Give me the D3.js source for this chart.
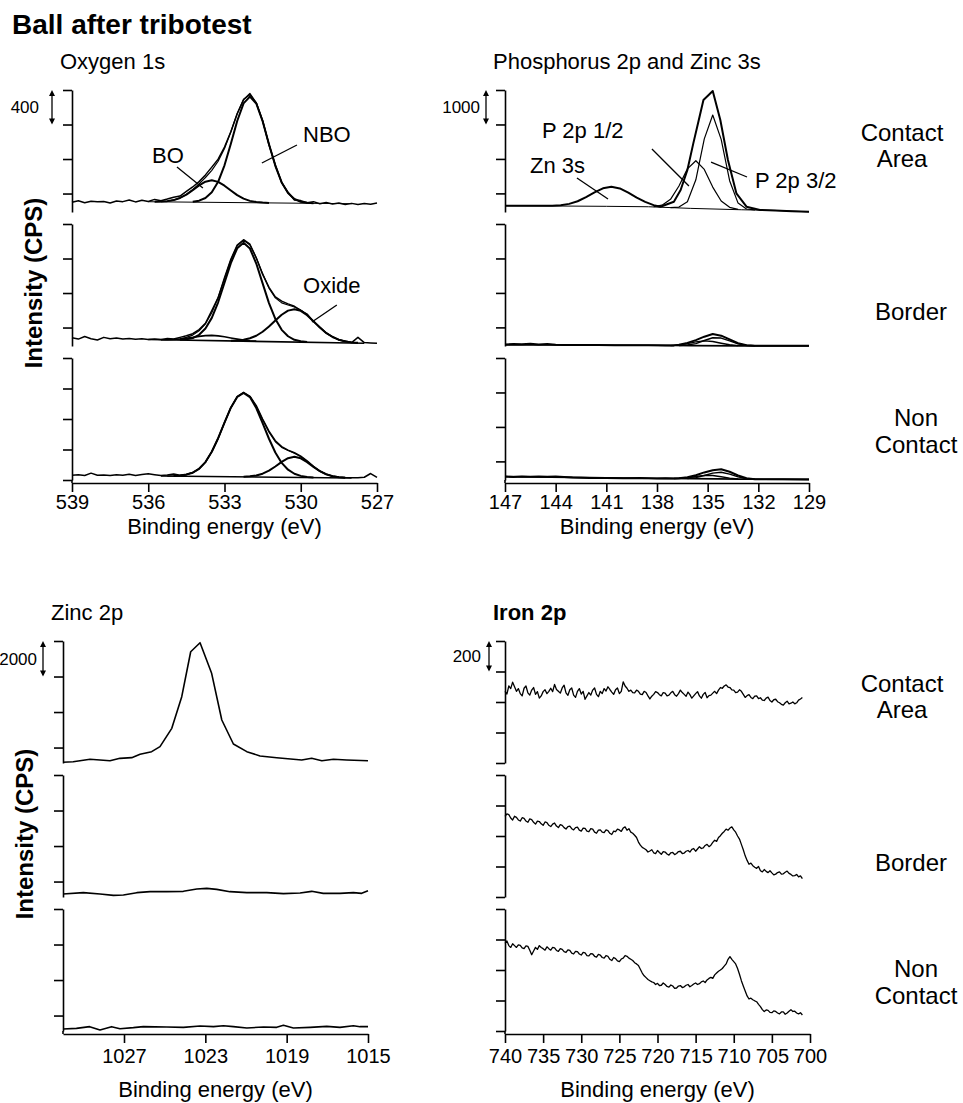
<!DOCTYPE html>
<html lang="en">
<head>
<meta charset="utf-8">
<title>Ball after tribotest</title>
<script src="https://d3js.org/d3.v7.min.js"></script>
<style>
  body { margin: 0; background: #fff; }
  text { font-family: "Liberation Sans", Arial, sans-serif; fill: #000; }
</style>
</head>
<body>
<svg id="chart" width="963" height="1103"></svg>
<script>
// ---------- O 1s (binding energy eV, intensity CPS) ----------
const o1sContactRaw = [[539,112],[538.75,130],[538.5,108],[538.25,125],[538,118],[537.75,122],[537.5,105],[537.25,128],[537,120],[536.75,140],[536.5,117],[536.25,135],[536,122],[535.75,146],[535.5,130],[535.25,150],[535,172],[534.75,185],[534.5,238],[534.25,290],[534,352],[533.75,430],[533.5,520],[533.25,612],[533,752],[532.75,930],[532.5,1138],[532.25,1300],[532,1372],[531.75,1262],[531.5,1060],[531.25,780],[531,548],[530.75,340],[530.5,228],[530.25,140],[530,132],[529.75,108],[529.5,120],[529.25,96],[529,110],[528.75,92],[528.5,104],[528.25,88],[528,100],[527.75,86],[527.5,98],[527.25,90],[527,104]];
const o1sContactFit = [[535.5,121],[535.25,126],[535,138],[534.75,163],[534.5,202],[534.25,259],[534,326],[533.75,400],[533.5,483],[533.25,588],[533,736],[532.75,930],[532.5,1141],[532.25,1306],[532,1359],[531.75,1267],[531.5,1055],[531.25,787],[531,535],[530.75,343],[530.5,219],[530.25,151],[530,119],[529.75,107],[529.5,100]];
const o1sContactNBO = [[534.25,120],[534,131],[533.75,162],[533.5,228],[533.25,350],[533,541],[532.75,791],[532.5,1055],[532.25,1259],[532,1337],[531.75,1258],[531.5,1052],[531.25,786],[531,535],[530.75,343],[530.5,219],[530.25,151],[530,119],[529.75,107],[529.5,100]];
const o1sContactBO = [[535.75,119],[535.5,121],[535.25,126],[535,138],[534.75,163],[534.5,201],[534.25,253],[534,308],[533.75,351],[533.5,367],[533.25,349],[533,305],[532.75,249],[532.5,195],[532.25,155],[532,129],[531.75,116],[531.5,109],[531.25,105]];
const o1sContactBg = [[536,119],[528,96]];

const o1sBorderRaw = [[539,95],[538.75,80],[538.5,110],[538.25,85],[538,70],[537.75,100],[537.5,85],[537.25,92],[537,80],[536.75,88],[536.5,78],[536.25,84],[536,76],[535.75,82],[535.5,74],[535.25,88],[535,80],[534.75,100],[534.5,118],[534.25,142],[534,190],[533.75,262],[533.5,410],[533.25,560],[533,790],[532.75,1005],[532.5,1170],[532.25,1232],[532,1180],[531.75,1020],[531.5,830],[531.25,680],[531,570],[530.75,520],[530.5,488],[530.25,460],[530,412],[529.75,370],[529.5,282],[529.25,220],[529,150],[528.75,108],[528.5,70],[528.25,58],[528,40],[527.75,100],[527.5,40],[527.25,36],[527,32]];
const o1sBorderFit = [[535.5,74],[535.25,74],[535,77],[534.75,84],[534.5,100],[534.25,126],[534,177],[533.75,258],[533.5,386],[533.25,563],[533,781],[532.75,998],[532.5,1162],[532.25,1225],[532,1171],[531.75,1024],[531.5,839],[531.25,671],[531,558],[530.75,500],[530.5,475],[530.25,452],[530,417],[529.75,360],[529.5,288],[529.25,215],[529,152],[528.75,104],[528.5,73],[528.25,53],[528,42],[527.75,37]];
const o1sBorderNBO = [[534.75,72],[534.5,78],[534.25,92],[534,130],[533.75,202],[533.5,326],[533.25,507],[533,733],[532.75,961],[532.5,1133],[532.25,1196],[532,1130],[531.75,956],[531.5,726],[531.25,497],[531,313],[530.75,187],[530.5,113],[530.25,72],[530,55],[529.75,47]];
const o1sBorderOxide = [[532.75,62],[532.5,65],[532.25,73],[532,90],[531.75,119],[531.5,165],[531.25,225],[531,295],[530.75,362],[530.5,410],[530.25,426],[530,407],[529.75,357],[529.5,288],[529.25,215],[529,152],[528.75,104],[528.5,73],[528.25,53],[528,42],[527.75,37]];
const o1sBorderSmall = [[535.5,74],[535.25,74],[535,76],[534.75,81],[534.5,90],[534.25,100],[534,112],[533.75,120],[533.5,123],[533.25,117],[533,107],[532.75,93],[532.5,80],[532.25,68],[532,61],[531.75,57]];
const o1sBorderBg = [[536,75],[527.5,32]];

const o1sNonRaw = [[539,62],[538.75,68],[538.5,60],[538.25,90],[538,62],[537.75,66],[537.5,58],[537.25,70],[537,62],[536.75,75],[536.5,60],[536.25,72],[536,82],[535.75,70],[535.5,58],[535.25,66],[535,78],[534.75,62],[534.5,75],[534.25,98],[534,148],[533.75,232],[533.5,372],[533.25,545],[533,755],[532.75,950],[532.5,1092],[532.25,1150],[532,1098],[531.75,975],[531.5,800],[531.25,640],[531,515],[530.75,438],[530.5,392],[530.25,358],[530,312],[529.75,250],[529.5,180],[529.25,118],[529,80],[528.75,52],[528.5,40],[528.25,34],[528,30],[527.75,28],[527.5,36],[527.25,85],[527,35]];
const o1sNonFit = [[535.25,52],[535,54],[534.75,58],[534.5,70],[534.25,96],[534,147],[533.75,235],[533.5,370],[533.25,548],[533,752],[532.75,948],[532.5,1089],[532.25,1144],[532,1095],[531.75,965],[531.5,791],[531.25,627],[531,502],[530.75,428],[530.5,386],[530.25,352],[530,305],[529.75,243],[529.5,175],[529.25,116],[529,74],[528.75,49],[528.5,35],[528.25,30]];
const o1sNonNBO = [[535,54],[534.75,58],[534.5,70],[534.25,96],[534,147],[533.75,235],[533.5,370],[533.25,548],[533,752],[532.75,948],[532.5,1089],[532.25,1141],[532,1087],[531.75,944],[531.5,746],[531.25,541],[531,361],[530.75,224],[530.5,135],[530.25,82],[530,54],[529.75,40],[529.5,34]];
const o1sNonOxide = [[532.25,44],[532,48],[531.75,60],[531.5,83],[531.25,123],[531,177],[530.75,238],[530.5,286],[530.25,304],[530,284],[529.75,235],[529.5,172],[529.25,116],[529,74],[528.75,49],[528.5,35],[528.25,30]];
const o1sNonBg = [[535.5,53],[528,26]];

// ---------- P 2p and Zn 3s ----------
const p2pContactRaw = [[147,183],[146,178],[145.2,178],[144.7,178],[144.2,182],[143.7,198],[143.2,236],[142.7,312],[142.2,430],[141.7,570],[141.2,688],[140.7,734],[140.2,684],[139.7,561],[139.2,416],[138.7,294],[138.2,200],[137.8,154],[137,299],[136.6,638],[136.2,1218],[135.85,1992],[135.55,2619],[135.25,3248],[134.7,3509],[134.25,2668],[133.8,1508],[133.3,542],[132.7,154],[131.9,58],[131,45],[130,25],[129,5]];
const p2pContactP12 = [[138.2,157],[137.7,198],[137.2,367],[136.7,754],[136.2,1251],[135.7,1488],[135.2,1236],[134.7,723],[134.2,319],[133.7,135],[133.2,78]];
const p2pContactP32 = [[137.2,129],[136.7,143],[136.2,300],[135.7,934],[135.2,2122],[134.7,2813],[134.2,2108],[133.7,908],[133.2,258],[132.7,87],[132.2,59]];
const p2pContactBg = [[147,183],[141,165],[138.5,152],[136,105],[133,65],[131,45],[129,5]];

const p2pBorderRaw = [[147,40],[146.5,60],[146,52],[145.5,62],[145,44],[144.5,55],[144,34],[143.5,30],[142.5,32],[141.5,28],[140.5,25],[139.5,22],[138.5,20],[137.5,14],[137,18],[136.7,40],[136.2,90],[135.7,170],[135.2,270],[134.7,348],[134.2,300],[133.7,190],[133.2,80],[132.7,20],[132.2,6],[131,4],[130,6],[129,8]];
const p2pBorderP32 = [[136.7,15],[136.2,30],[135.7,70],[135.2,160],[134.7,240],[134.2,230],[133.7,150],[133.2,60],[132.7,20],[132.2,8]];
const p2pBorderP12 = [[137.2,12],[136.7,30],[136.2,70],[135.7,120],[135.2,150],[134.7,130],[134.2,80],[133.7,35],[133.2,12]];
const p2pBorderBg = [[147,30],[138,20],[136,12],[133,5],[129,0]];

const p2pNonRaw = [[147,100],[146.5,90],[146,100],[145.5,95],[145,100],[144.5,92],[144,98],[143.5,85],[143,70],[142,55],[141,60],[140,50],[139,55],[138,45],[137.5,48],[137,40],[136.7,50],[136.2,80],[135.7,140],[135.2,220],[134.7,285],[134.2,310],[133.7,240],[133.2,130],[132.7,50],[132.2,25],[131.5,20],[130.5,22],[129,18]];
const p2pNonP32 = [[136.2,45],[135.7,70],[135.2,130],[134.7,200],[134.2,225],[133.7,170],[133.2,90],[132.7,35],[132.2,22]];
const p2pNonP12 = [[137,42],[136.2,60],[135.7,100],[135.2,135],[134.7,130],[134.2,95],[133.7,55],[133.2,30]];
const p2pNonBg = [[147,98],[143,75],[139,50],[136,40],[133,25],[129,18]];

// ---------- Zn 2p ----------
const zn2pContact = [[1030,39],[1029.5,73],[1028.67,208],[1027.69,130],[1027.2,263],[1026.62,300],[1026.21,488],[1025.64,638],[1025.23,919],[1024.65,1952],[1024.16,3733],[1023.72,6266],[1023.26,6773],[1022.69,5050],[1022.19,2421],[1021.62,1070],[1020.96,638],[1020.31,394],[1019.49,300],[1018.67,208],[1018.26,169],[1017.77,263],[1017.27,130],[1016.7,208],[1016.05,169],[1015,130]];
const zn2pBorder = [[1030,169],[1029,244],[1028.18,169],[1027.52,94],[1027.03,113],[1026.37,244],[1025.72,300],[1024.9,300],[1024.08,319],[1023.42,450],[1022.93,488],[1022.44,431],[1021.79,300],[1020.96,244],[1019.98,244],[1019.16,188],[1018.34,225],[1017.77,319],[1017.2,206],[1016.38,206],[1015.72,244],[1015.31,206],[1015,356]];
const zn2pNon = [[1030,113],[1029.34,150],[1028.69,244],[1028.18,56],[1027.61,244],[1027.2,131],[1026.54,188],[1026.05,244],[1024.9,225],[1024.08,206],[1023.26,281],[1022.6,244],[1022.11,300],[1021.62,244],[1020.96,169],[1020.14,225],[1019.49,206],[1019.16,319],[1018.67,169],[1017.85,206],[1017.03,263],[1016.38,206],[1015.72,300],[1015.39,244],[1015,244]];

// ---------- Fe 2p (0.25 eV steps) ----------
const feBE = [740,739.75,739.5,739.25,739,738.75,738.5,738.25,738,737.75,737.5,737.25,737,736.75,736.5,736.25,736,735.75,735.5,735.25,735,734.75,734.5,734.25,734,733.75,733.5,733.25,733,732.75,732.5,732.25,732,731.75,731.5,731.25,731,730.75,730.5,730.25,730,729.75,729.5,729.25,729,728.75,728.5,728.25,728,727.75,727.5,727.25,727,726.75,726.5,726.25,726,725.75,725.5,725.25,725,724.75,724.5,724.25,724,723.75,723.5,723.25,723,722.75,722.5,722.25,722,721.75,721.5,721.25,721,720.75,720.5,720.25,720,719.75,719.5,719.25,719,718.75,718.5,718.25,718,717.75,717.5,717.25,717,716.75,716.5,716.25,716,715.75,715.5,715.25,715,714.75,714.5,714.25,714,713.75,713.5,713.25,713,712.75,712.5,712.25,712,711.75,711.5,711.25,711,710.75,710.5,710.25,710,709.75,709.5,709.25,709,708.75,708.5,708.25,708,707.75,707.5,707.25,707,706.75,706.5,706.25,706,705.75,705.5,705.25,705,704.75,704.5,704.25,704,703.75,703.5,703.25,703,702.75,702.5,702.25,702,701.75,701.5,701.25,701];
const fe2pContact = [470,452,505,488,530,500,470,488,455,440,490,505,460,445,478,495,450,468,425,440,468,480,455,470,490,468,515,482,470,458,492,510,460,444,480,492,445,430,470,488,452,470,418,440,462,445,478,492,450,435,470,455,488,472,500,482,465,450,480,492,455,470,532,505,490,470,478,462,460,478,470,452,448,470,462,440,420,438,450,468,462,448,440,462,458,440,445,460,470,448,438,455,478,462,450,438,465,448,425,440,455,468,440,425,450,462,428,442,445,458,470,455,478,495,490,505,512,498,495,480,478,462,465,480,470,450,430,442,448,430,422,438,440,422,428,412,410,425,432,410,400,415,418,402,395,385,380,395,405,388,392,400,388,395,412,420,430];
const fe2pBorder = [528,545,540,518,505,530,522,505,498,520,515,498,490,512,508,490,478,498,495,480,470,492,488,470,462,478,485,465,455,475,470,455,446,462,465,448,440,455,458,438,432,452,450,432,428,448,445,425,418,438,440,425,422,440,436,418,410,432,428,445,440,430,452,460,438,448,425,418,405,390,360,340,325,318,310,295,302,310,290,285,305,292,280,298,295,282,275,290,292,278,285,298,300,285,288,300,305,295,312,318,300,315,330,318,322,338,345,330,340,358,372,365,390,402,418,430,445,438,452,460,440,425,400,380,345,310,270,240,215,222,205,195,188,200,172,165,180,168,160,172,158,145,150,160,165,150,152,162,170,155,148,138,140,148,132,138,120];
const fe2pNon = [575,590,560,548,572,560,548,565,562,545,540,558,555,530,500,525,548,535,560,548,540,530,552,540,530,548,545,528,522,540,535,520,515,532,528,510,505,522,520,505,498,515,512,495,492,508,505,490,485,502,498,482,478,495,490,470,462,482,475,460,455,472,478,495,490,478,470,462,448,440,430,405,380,362,350,338,330,322,318,305,312,298,300,315,305,292,288,302,295,280,282,295,298,285,290,300,305,290,298,308,315,305,310,322,328,318,335,345,352,345,368,380,392,400,410,425,440,470,488,470,455,440,410,372,330,295,262,230,210,215,205,198,192,175,160,140,128,138,135,122,120,132,128,118,112,125,125,110,118,130,140,128,130,118,112,120,105];

// ---------- axis ticks ----------
const oTicks = [539, 536, 533, 530, 527];
const pTicks = [147, 144, 141, 138, 135, 132, 129];
const znTicks = [1027, 1023, 1019, 1015];
const feTicks = [740, 735, 730, 725, 720, 715, 710, 705, 700];

const subH = 122;
const rowLabels = [["Contact", "Area"], ["Border"], ["Non", "Contact"]];

const fePairs = vals => feBE.map((e, i) => [e, vals[i]]).filter(d => d[1] !== undefined);

const panels = [
  { title: "Oxygen 1s", bold: false, tx: 60, ty: 69, left: 72, right: 377, domain: [539, 527], ticks: oTicks,
    tops: [90, 224, 358], yMax: [1414, 1414, 1600], step: 400, bar: "400", barX: 52, barLabX: 39,
    pad: 3, xtGap: 51,
    subs: [
      [ {d: o1sContactBg, w: 1}, {d: o1sContactRaw, w: 1.5}, {d: o1sContactFit, w: 1.2}, {d: o1sContactBO, w: 2}, {d: o1sContactNBO, w: 2} ],
      [ {d: o1sBorderBg, w: 1.6}, {d: o1sBorderRaw, w: 1.5}, {d: o1sBorderFit, w: 1.2}, {d: o1sBorderSmall, w: 1.6}, {d: o1sBorderNBO, w: 2}, {d: o1sBorderOxide, w: 2} ],
      [ {d: o1sNonBg, w: 1.6}, {d: o1sNonRaw, w: 1.5}, {d: o1sNonFit, w: 1.2}, {d: o1sNonNBO, w: 2}, {d: o1sNonOxide, w: 2} ]
    ] },
  { title: "Phosphorus 2p and Zinc 3s", bold: false, tx: 493, ty: 69, left: 505, right: 809, domain: [147, 129], ticks: pTicks,
    tops: [90, 224, 358], yMax: [3540, 3540, 3540], step: 1000, bar: "1000", barX: 486, barLabX: 480,
    pad: 3, xtGap: 51,
    subs: [
      [ {d: p2pContactBg, w: 1}, {d: p2pContactP12, w: 1.2}, {d: p2pContactP32, w: 1.2}, {d: p2pContactRaw, w: 2} ],
      [ {d: p2pBorderBg, w: 1.6}, {d: p2pBorderP12, w: 1.4}, {d: p2pBorderP32, w: 1.4}, {d: p2pBorderRaw, w: 2} ],
      [ {d: p2pNonBg, w: 1.6}, {d: p2pNonP12, w: 1.4}, {d: p2pNonP32, w: 1.4}, {d: p2pNonRaw, w: 2} ]
    ] },
  { title: "Zinc 2p", bold: false, tx: 51, ty: 620, left: 63, right: 368, domain: [1030, 1015], ticks: znTicks,
    tops: [641, 775, 909], yMax: [6870, 6870, 6870], step: 2000, bar: "2000", barX: 43, barLabX: 37,
    pad: 6, xtGap: 63,
    subs: [ [ {d: zn2pContact, w: 1.6} ], [ {d: zn2pBorder, w: 1.6} ], [ {d: zn2pNon, w: 1.6} ] ] },
  { title: "Iron 2p", bold: true, tx: 493, ty: 620, left: 505, right: 810, domain: [740, 700], ticks: feTicks,
    tops: [641, 775, 909], yMax: [800, 800, 800], step: 200, bar: "200", barX: 489, barLabX: 481,
    pad: 6, xtGap: 63,
    subs: [ [ {d: fePairs(fe2pContact), w: 1.3} ], [ {d: fePairs(fe2pBorder), w: 1.3} ], [ {d: fePairs(fe2pNon), w: 1.3} ] ] }
];

// peak labels, placed in data coordinates (panel, sub-panel, [BE, CPS])
const annotations = [
  { p: 0, s: 0, text: "BO", at: [535.85, 568], line: [[534.87, 522], [533.85, 278]] },
  { p: 0, s: 0, text: "NBO", at: [529.91, 812], line: [[530.15, 777], [531.53, 568]] },
  { p: 0, s: 1, text: "Oxide", at: [529.91, 615], line: [[528.58, 476], [529.56, 278]] },
  { p: 1, s: 0, text: "Zn 3s", at: [145.52, 1131], line: [[142.74, 986], [140.9, 377]] },
  { p: 1, s: 0, text: "P 2p 1/2", at: [144.81, 2146], line: [[138.3, 1827], [136.11, 754]] },
  { p: 1, s: 0, text: "P 2p 3/2", at: [132.2, 696], line: [[134.8, 1450], [132.67, 1015]] }
];

const svg = d3.select("#chart");

svg.append("text").attr("x", 12).attr("y", 34)
  .style("font-size", "28px").style("font-weight", "bold")
  .text("Ball after tribotest");

panels.forEach((p, pi) => {
  const x = d3.scaleLinear().domain(p.domain).range([p.left, p.right]);
  const g = svg.append("g");
  g.append("text").attr("x", p.tx).attr("y", p.ty)
    .style("font-size", "22px").style("font-weight", p.bold ? "bold" : "normal")
    .text(p.title);

  p.scales = [];
  p.subs.forEach((curves, i) => {
    const top = p.tops[i], bottom = top + subH;
    const y = d3.scaleLinear().domain([0, p.yMax[i]]).range([bottom, top]);
    p.scales.push(y);
    const tv = [];
    for (let v = p.yMax[i]; v > -1; v -= p.step) tv.push(v);

    const ax = g.append("g").attr("transform", `translate(${p.left},0)`)
      .call(d3.axisLeft(y).tickValues(tv).tickSize(9).tickSizeOuter(0).tickFormat(""));
    ax.selectAll("path, line").attr("stroke", "#000").attr("stroke-width", 1.6);
    if (i === 2) {
      g.append("line").attr("x1", p.left).attr("x2", p.left).attr("y1", bottom).attr("y2", bottom + 3)
        .attr("stroke", "#000").attr("stroke-width", 1.6);
    }

    const line = d3.line().x(d => x(d[0])).y(d => y(d[1]));
    curves.forEach(c => {
      g.append("path").attr("d", line(c.d))
        .attr("fill", "none").attr("stroke", "#000")
        .attr("stroke-width", c.w).attr("stroke-linejoin", "round");
    });

    // row label on the right
    const ly = { 0: [top + 51, top + 77], 1: [top + 96], 2: [top + 68, top + 95] }[i];
    const lx = [902, 911, 916][i];
    rowLabels[i].forEach((t, k) => {
      if (pi % 2 === 1) {
        svg.append("text").attr("x", lx).attr("y", ly[k]).attr("text-anchor", "middle")
          .style("font-size", "24px").text(t);
      }
    });
  });

  // scale bar (one tick step) on the top sub-panel
  const y0 = p.scales[0];
  const ya = y0(p.yMax[0]), yb = y0(p.yMax[0] - p.step);
  g.append("line").attr("x1", p.barX).attr("x2", p.barX).attr("y1", ya + 2).attr("y2", yb - 2)
    .attr("stroke", "#000").attr("stroke-width", 1.3);
  g.append("path").attr("d", `M${p.barX},${ya} l-3,6 l6,0 z M${p.barX},${yb} l-3,-6 l6,0 z`).attr("fill", "#000");
  g.append("text").attr("x", p.barLabX).attr("y", (ya + yb) / 2 + 6).attr("text-anchor", "end")
    .style("font-size", "17px").text(p.bar);

  // x axis
  const xb = p.tops[2] + subH + 3;
  const xa = g.append("g").attr("transform", `translate(0,${xb})`)
    .call(d3.axisBottom(x).tickValues(p.ticks).tickSize(9).tickSizeOuter(0).tickPadding(p.pad).tickFormat(d3.format("d")));
  xa.selectAll("path, line").attr("stroke", "#000").attr("stroke-width", 1.6);
  xa.selectAll("text").style("font-size", "20px").style("font-family", "'Liberation Sans', Arial, sans-serif").attr("fill", "#000");

  g.append("text").attr("x", (p.left + p.right) / 2).attr("y", xb + p.xtGap).attr("text-anchor", "middle")
    .style("font-size", "22px").text("Binding energy (eV)");
  p.x = x;
});

// y titles
[[42, 283], [33, 834]].forEach(([lx, ly]) => {
  svg.append("text").attr("transform", `translate(${lx},${ly}) rotate(-90)`)
    .attr("text-anchor", "middle").style("font-size", "24px").style("font-weight", "bold")
    .text("Intensity (CPS)");
});

// annotations
annotations.forEach(a => {
  const p = panels[a.p], y = p.scales[a.s], x = p.x;
  svg.append("text").attr("x", x(a.at[0])).attr("y", y(a.at[1]))
    .style("font-size", "22px").text(a.text);
  svg.append("line")
    .attr("x1", x(a.line[0][0])).attr("y1", y(a.line[0][1]))
    .attr("x2", x(a.line[1][0])).attr("y2", y(a.line[1][1]))
    .attr("stroke", "#000").attr("stroke-width", 1.3);
});
</script>
</body>
</html>
